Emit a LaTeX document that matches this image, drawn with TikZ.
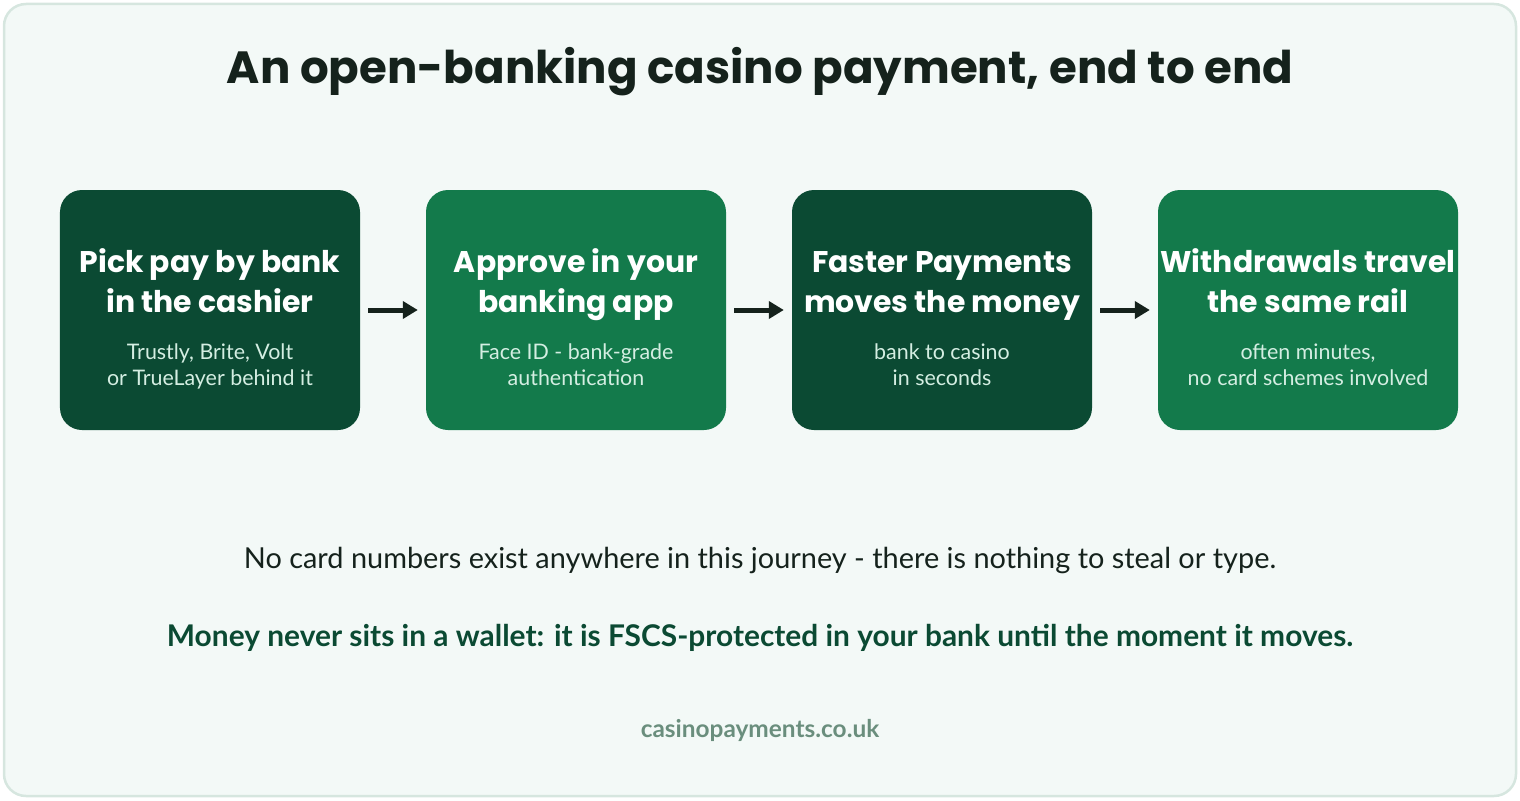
\documentclass[tikz,border=0pt]{standalone}
\usepackage{fontspec}
\setmainfont{Lato}
\newfontfamily\headfont{Poppins}
\usetikzlibrary{arrows.meta,positioning,calc}
\definecolor{bgpage}{HTML}{F3F9F7}
\definecolor{bgrule}{HTML}{D6E6DF}
\definecolor{stepdark}{HTML}{0B4A33}
\definecolor{steplight}{HTML}{137A4B}
\definecolor{subtext}{HTML}{D4EEE2}
\definecolor{inkdark}{HTML}{15221C}
\definecolor{footgrey}{HTML}{6A8E7D}

\begin{document}
\begin{tikzpicture}[x=1bp,y=-1bp,
  stepbox/.style={rounded corners=22bp,minimum width=300bp,minimum height=240bp,inner sep=0pt},
  headtxt/.style={anchor=base,text=white,align=center,font=\headfont\bfseries\fontsize{30}{40}\selectfont},
  subtxt/.style={anchor=base,text=subtext,align=center,font=\fontsize{21.5}{26}\selectfont},
  flow/.style={-{Triangle[length=15bp,width=17bp]},line width=5bp,draw=inkdark,shorten <=8bp,shorten >=8bp}]
\useasboundingbox (0,0) rectangle (1520,800);
\draw[bgrule,fill=bgpage,line width=2.5bp,rounded corners=22bp] (4,4) rectangle (1516,796);
\node (title) at (760,72) {\headfont\bfseries\fontsize{45.3}{50}\selectfont\color{inkdark}An open-banking casino payment, end to end};
% the four steps
\node[stepbox,fill=stepdark]  (s1) at (210,310) {};
\node[stepbox,fill=steplight] (s2) at (576,310) {};
\node[stepbox,fill=stepdark]  (s3) at (942,310) {};
\node[stepbox,fill=steplight] (s4) at (1308,310) {};
\node[headtxt] (h1) at ($(s1.center)+(0,2)$) {Pick pay by bank\\in the cashier};
\node[headtxt] (h2) at ($(s2.center)+(0,2)$) {Approve in your\\banking app};
\node[headtxt] (h3) at ($(s3.center)+(0,2)$) {Faster Payments\\moves the money};
\node[headtxt] (h4) at ($(s4.center)+(0,2)$) {Withdrawals travel\\the same rail};
\node[subtxt] (t1) at ($(s1.center)+(0,75)$) {Trustly, Brite, Volt\\or TrueLayer behind it};
\node[subtxt] (t2) at ($(s2.center)+(0,75)$) {Face ID - bank-grade\\authentication};
\node[subtxt] (t3) at ($(s3.center)+(0,75)$) {bank to casino\\in seconds};
\node[subtxt] (t4) at ($(s4.center)+(0,75)$) {often minutes,\\no card schemes involved};
\draw[flow] (s1) -- (s2);
\draw[flow] (s2) -- (s3);
\draw[flow] (s3) -- (s4);
% notes under the steps
\node[text=inkdark,font=\fontsize{29}{34}\selectfont] (n1) at (760,560) {No card numbers exist anywhere in this journey - there is nothing to steal or type.};
\node[text=stepdark,font=\bfseries\fontsize{30}{34}\selectfont] (n2) at (760,638) {Money never sits in a wallet: it is FSCS-protected in your bank until the moment it moves.};
\node[text=footgrey,font=\bfseries\fontsize{24.5}{28}\selectfont] (foot) at (760,730) {casinopayments.co.uk};
\end{tikzpicture}
\end{document}
